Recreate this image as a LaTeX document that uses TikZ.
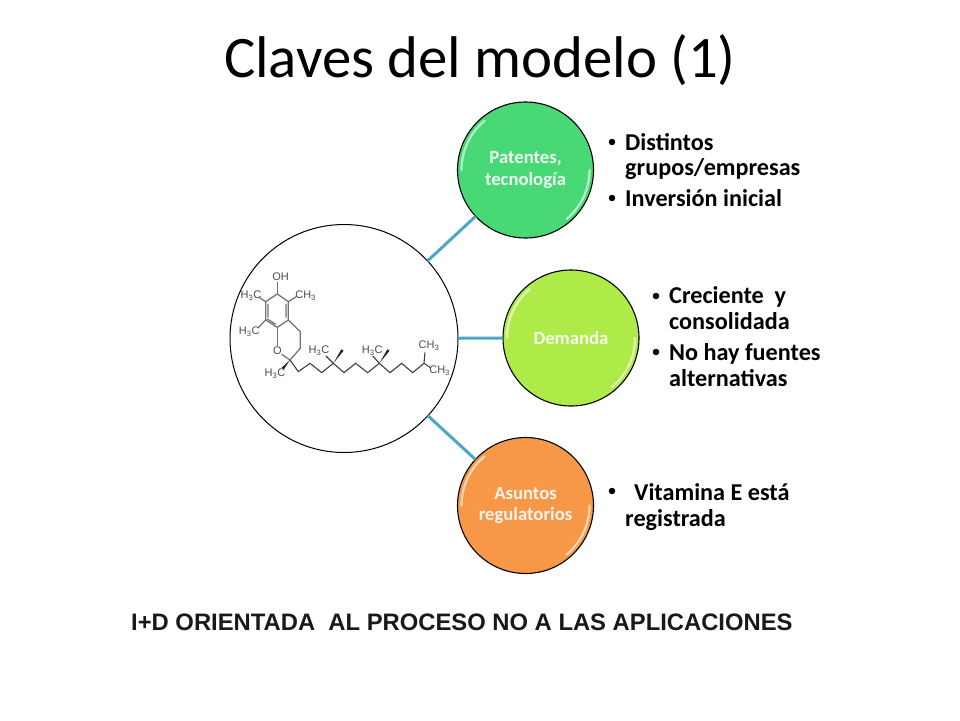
\documentclass[tikz,border=0pt]{standalone}
\usepackage{fontspec}
\setmainfont{Carlito}
\newfontfamily\arialfont{Liberation Sans}
\usetikzlibrary{calc}
\definecolor{linkteal}{RGB}{75,168,196}
\definecolor{patgreen}{RGB}{72,217,118}
\definecolor{demgreen}{RGB}{174,234,72}
\definecolor{asuorange}{RGB}{246,152,72}
\definecolor{molgray}{RGB}{115,115,115}
\tikzset{
  x=1pt,y=-1pt,
  ball/.style={circle,draw=black,line width=1.1pt,minimum size=136pt,inner sep=0pt,outer sep=0pt,
     text=white,font=\bfseries\fontsize{18.7}{21.5}\selectfont,align=center,text opacity=.9},
  link/.style={draw=linkteal,line width=3pt},
  gloss/.style={draw=white,line width=2.2pt,opacity=.6,line cap=round},
  bul/.style={anchor=base west,inner sep=0pt,font=\bfseries\fontsize{24.2}{26}\selectfont,text=black},
  dot/.style={circle,fill=black,inner sep=0pt,minimum size=6.5pt},
  mol/.style={draw=molgray,line width=1.25pt},
  molk/.style={draw=black!75,line width=1.1pt},
  mlab/.style={inner sep=0pt,text=black!70,font=\fontsize{11}{12}\selectfont\arialfont},
}
\begin{document}
\begin{tikzpicture}
\useasboundingbox (0,0) rectangle (960,720);
\fill[white] (0,0) rectangle (960,720);
\node[inner sep=0pt,font=\fontsize{58.8}{62}\selectfont] (title) at (480,60) {Claves del modelo (1)};
\node[circle,draw=black,line width=1pt,minimum size=228pt,inner sep=0pt,outer sep=0pt,fill=white] (hub) at (344,338.5) {};
\node[ball,fill=patgreen] (pat) at (525.5,170) {Patentes,\\tecnología};
\node[ball,fill=demgreen] (dem) at (571,338) {Demanda};
\node[ball,fill=asuorange] (asu) at (525.5,505.5) {Asuntos\\regulatorios};
\draw[link] (hub) -- (pat);
\draw[link] (hub) -- (dem);
\draw[link] (hub) -- (asu);
\foreach \n in {pat,dem,asu}{
  \draw[gloss] ($(\n)+(180:64)$) arc[start angle=180,end angle=230,radius=64];
  \draw[gloss] ($(\n)+(0:64)$) arc[start angle=0,end angle=50,radius=64];
}
% bullets
\node[dot] (b1) at (612,142) {};
\node[bul] (t1a) at (625,150) {Distintos};
\node[bul] (t1b) at (625,175) {grupos/empresas};
\node[dot] (b2) at (612,198) {};
\node[bul] (t2) at (625,206) {Inversión inicial};
\node[dot] (b3) at (656,296) {};
\node[bul] (t3a) at (669,303) {Creciente\ \ y};
\node[bul] (t3b) at (669,329) {consolidada};
\node[dot] (b4) at (656,352) {};
\node[bul] (t4a) at (669,360) {No hay fuentes};
\node[bul] (t4b) at (669,386) {alternativas};
\node[dot] (b5) at (612,491) {};
\node[bul] (t5a) at (634,500) {Vitamina E está};
\node[bul] (t5b) at (625,526) {registrada};
\node[anchor=base west,inner sep=0pt,font=\bfseries\fontsize{23.8}{26}\selectfont\arialfont,text=black!90] (foot) at (131,630) {I+D ORIENTADA\ \ AL PROCESO NO A LAS APLICACIONES};
% molecule
\begin{scope}[shift={(225,220)},x=.3333pt,y=-.3333pt]
\draw[mol] (157,222)--(190,245)--(190,300)--(157,322)--(122,300)--(122,245)--cycle;
\draw[mol] (183,252)--(183,293) (129,252)--(129,293) (152,313)--(127,297);
\draw[mol] (157,222)--(157,187);
\draw[mol] (190,245)--(214,230);
\draw[mol] (122,245)--(102,232);
\draw[mol] (122,300)--(100,323);
\draw[mol] (190,300)--(226,335)--(226,385)--(195,420)--(170,403);
\draw[mol] (157,322)--(157,378);
\draw[molk] (195,420)--(220,455)--(255,430)--(290,458)--(325,430)--(357,458)--(392,430)--(428,458)--(463,430)--(495,458)--(530,430)--(563,458)--(597,430)--(600,397);
\draw[molk] (597,430)--(618,444);
\draw[molk] (325,430)--(303,408);
\draw[molk] (463,430)--(443,408);
\fill[black!85] (195,420)--(170,443)--(176,449)--cycle;
\fill[black!85] (325,430)--(349,388)--(356,392)--cycle;
\fill[black!85] (463,430)--(487,388)--(494,392)--cycle;
\node[mlab] (oh) at (167,170) {OH};
\node[mlab] (o) at (157,393) {O};
\node[mlab] (m1) at (242,228) {CH\textsubscript{3}};
\node[mlab] (m2) at (78,228) {H\textsubscript{3}C};
\node[mlab] (m3) at (73,335) {H\textsubscript{3}C};
\node[mlab] (m4) at (150,462) {H\textsubscript{3}C};
\node[mlab] (m5) at (282,393) {H\textsubscript{3}C};
\node[mlab] (m6) at (442,393) {H\textsubscript{3}C};
\node[mlab] (m7) at (612,378) {CH\textsubscript{3}};
\node[mlab] (m8) at (644,452) {CH\textsubscript{3}};
\end{scope}
\end{tikzpicture}
\end{document}
